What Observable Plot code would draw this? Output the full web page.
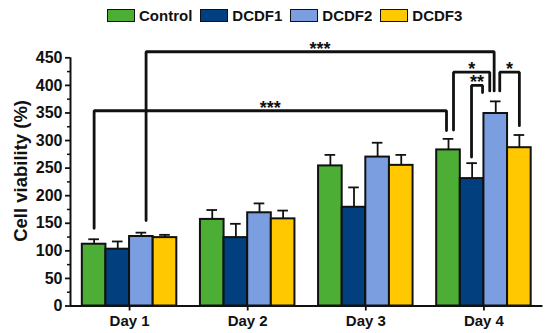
<!DOCTYPE html>
<html>
<head>
<meta charset="utf-8">
<script src="https://cdn.jsdelivr.net/npm/d3@7"></script>
<script src="https://cdn.jsdelivr.net/npm/@observablehq/plot@0.6"></script>
<style>
  html, body { margin: 0; padding: 0; background: #fff; }
  body { width: 550px; height: 333px; overflow: hidden; font-family: "Liberation Sans", Arial, sans-serif; }
  #legend { height: 30px; display: flex; align-items: center; padding-left: 107px; box-sizing: border-box; }
  .item { display: flex; align-items: center; margin-right: 8px; font-weight: bold; font-size: 15px; color: #111; }
  .sw { width: 26px; height: 11px; border: 1.7px solid #111; margin-right: 4px; }
</style>
</head>
<body>
<div id="legend"></div>
<div id="chart"></div>
<script>
const days = ["Day 1", "Day 2", "Day 3", "Day 4"];
const series = ["Control", "DCDF1", "DCDF2", "DCDF3"];
const colors = ["#4CAE34", "#023F7E", "#7B9EE0", "#FFC800"];
// mean cell viability (%) per series, by day
const control = [112, 157, 254, 283];
const dcdf1   = [103, 124, 179, 231];
const dcdf2   = [126, 169, 270, 349];
const dcdf3   = [124, 158, 255, 287];
// upper error (SD)
const controlErr = [9, 17, 20, 20];
const dcdf1Err   = [14, 25, 36, 28];
const dcdf2Err   = [7, 17, 26, 22];
const dcdf3Err   = [5, 15, 19, 23];
const yTicks = [0, 50, 100, 150, 200, 250, 300, 350, 400, 450];

// significance brackets: from bar a to bar b, horizontal level y, leg bottoms ya / yb
const brackets = [
  {a: ["Day 1", "Control"], b: ["Day 4", "Control"], y: 354, ya: 141, yb: 318, label: "***"},
  {a: ["Day 1", "DCDF2"],   b: ["Day 4", "DCDF2"],   y: 461, ya: 155, yb: 390, label: "***"},
  {a: ["Day 4", "Control"], b: ["Day 4", "DCDF2"],   y: 424, ya: 319, yb: 390, label: "*"},
  {a: ["Day 4", "DCDF1"],   b: ["Day 4", "DCDF2"],   y: 400, ya: 270, yb: 387, label: "**"},
  {a: ["Day 4", "DCDF2"],   b: ["Day 4", "DCDF3"],   y: 424, ya: 390, yb: 327, label: "*"}
];
// leg nudges (px) so that neighbouring legs do not overlap
const legNudge = [[0, -2], [4.7, -1.6], [5, -6], [-0.6, -13.2], [4, 0]];

const values = [control, dcdf1, dcdf2, dcdf3];
const errs = [controlErr, dcdf1Err, dcdf2Err, dcdf3Err];
const BAR = 0.2; // bar width in day units
const pos = (day, s) => days.indexOf(day) + (series.indexOf(s) - 1.5) * BAR;

const data = [];
series.forEach((s, j) => days.forEach((d, i) => {
  data.push({day: d, series: s, x: pos(d, s), value: values[j][i], err: errs[j][i]});
}));

const W = 550, H = 303, mL = 70, mR = 7.5, mT = 27.3, mB = 27.5;
const stepPx = (W - mL - mR) / 4;

const bracketPts = [];
brackets.forEach((b, k) => {
  const xa = pos(...b.a) + legNudge[k][0] / stepPx;
  const xb = pos(...b.b) + legNudge[k][1] / stepPx;
  bracketPts.push({k, x: xa, y: b.ya}, {k, x: xa, y: b.y}, {k, x: xb, y: b.y}, {k, x: xb, y: b.yb});
  b.xm = (xa + xb) / 2;
});

// legend
const lg = document.getElementById("legend");
series.forEach((s, j) => {
  const it = document.createElement("div");
  it.className = "item";
  it.innerHTML = `<div class="sw" style="background:${colors[j]}"></div><span>${s}</span>`;
  lg.appendChild(it);
});

const chart = Plot.plot({
  width: W, height: H,
  marginLeft: mL, marginRight: mR, marginTop: mT, marginBottom: mB,
  style: {fontFamily: "'Liberation Sans', Arial, sans-serif", fontWeight: "bold", color: "#111", background: "#fff"},
  x: {domain: [-0.5, 3.5], axis: null},
  y: {domain: [0, 450], axis: null},
  color: {domain: series, range: colors},
  marks: [
    Plot.rectY(data, {x1: d => d.x - BAR / 2, x2: d => d.x + BAR / 2, y1: 0, y2: "value", fill: "series", stroke: "#111", strokeWidth: 2}),
    Plot.ruleX(data, {x: "x", y1: "value", y2: d => d.value + d.err, stroke: "#111", strokeWidth: 1.8}),
    Plot.ruleY(data, {x1: d => d.x - 0.045, x2: d => d.x + 0.045, y: d => d.value + d.err, stroke: "#111", strokeWidth: 1.8}),
    Plot.line(bracketPts, {x: "x", y: "y", z: "k", stroke: "#111", strokeWidth: 2.8, strokeLinejoin: "miter", clip: false}),
    Plot.text(brackets, {x: "xm", y: "y", text: "label", lineAnchor: "bottom", dy: 3, fontSize: 18, fill: "#111"}),
    Plot.axisY({ticks: yTicks, tickSize: 5, tickPadding: 3, fontSize: 16, strokeWidth: 1.8, label: null}),
    Plot.axisY({ticks: d3.range(25, 450, 50), tickSize: 3, tickFormat: () => "", strokeWidth: 1.5, label: null}),
    Plot.axisX({ticks: [0, 1, 2, 3], tickFormat: i => days[i], tickSize: 5, tickPadding: 4, fontSize: 15, strokeWidth: 1.8, label: null}),
    Plot.ruleY([0], {stroke: "#111", strokeWidth: 2}),
    Plot.ruleX([-0.5], {stroke: "#111", strokeWidth: 2}),
    Plot.text(["Cell viability (%)"], {frameAnchor: "left", textAnchor: "middle", lineAnchor: "middle", rotate: -90, dx: -49.5, dy: -11, fontSize: 18.5, fill: "#111", fontWeight: "bold"})
  ]
});
document.getElementById("chart").appendChild(chart);
</script>
</body>
</html>
